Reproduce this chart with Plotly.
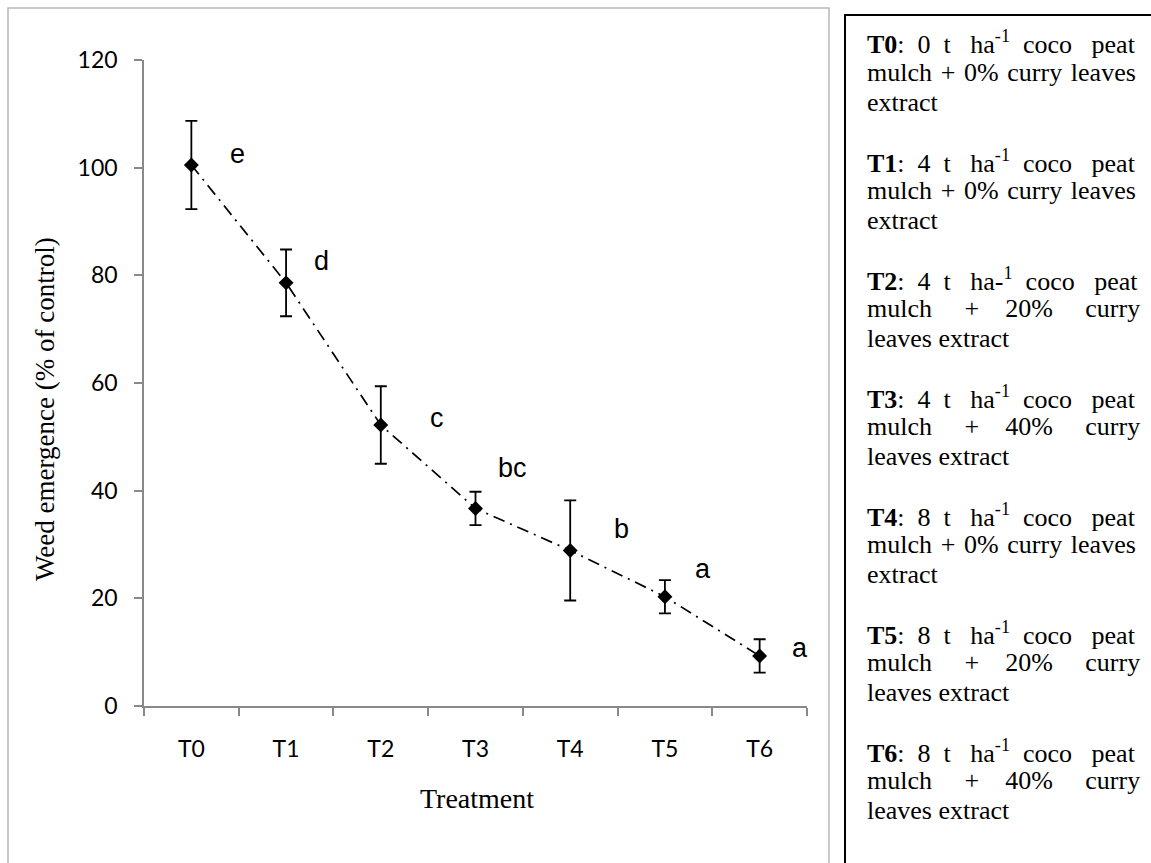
import plotly.graph_objects as go

# ---------------- data ----------------
treatments = ["T0", "T1", "T2", "T3", "T4", "T5", "T6"]
emergence = [100.5, 78.6, 52.2, 36.7, 28.9, 20.3, 9.3]
error = [8.2, 6.2, 7.2, 3.1, 9.3, 3.1, 3.1]
letters = ["e", "d", "c", "bc", "b", "a", "a"]
y_ticks = [0, 20, 40, 60, 80, 100, 120]

HS = "\u200a"  # hair space used to approximate justified text
legend_blocks = [
    ["<b>T0</b>:  0  t   ha<sup>-1</sup>  coco   peat", f"mulch{HS} +{HS} 0%{HS} curry{HS} leaves", "extract"],
    ["<b>T1</b>:  4  t   ha<sup>-1</sup>  coco   peat", f"mulch{HS} +{HS} 0%{HS} curry{HS} leaves", "extract"],
    ["<b>T2</b>:  4  t   ha-<sup>1</sup>  coco   peat", "mulch     +    20%     curry", "leaves extract"],
    ["<b>T3</b>:  4  t   ha<sup>-1</sup>  coco   peat", "mulch     +    40%     curry", "leaves extract"],
    ["<b>T4</b>:  8  t   ha<sup>-1</sup>  coco   peat", f"mulch{HS} +{HS} 0%{HS} curry{HS} leaves", "extract"],
    ["<b>T5</b>:  8  t   ha<sup>-1</sup>  coco   peat", "mulch     +    20%     curry", "leaves extract"],
    ["<b>T6</b>:  8  t   ha<sup>-1</sup>  coco   peat", "mulch     +    40%     curry", "leaves extract"],
]

# ---------------- layout geometry (pixels) ----------------
W, H = 1151, 863
ML, MR, MT, MB = 144, 344, 60, 157
PW, PH = W - ML - MR, H - MT - MB


def px(xp):
    return (xp - ML) / PW


def py(yp):
    return (H - MB - yp) / PH


AXIS_GREY = "#898989"

fig = go.Figure()
fig.add_trace(go.Scatter(
    x=treatments, y=emergence,
    mode="lines+markers",
    line=dict(color="black", width=1.7, dash="12px,6px,2px,6px"),
    marker=dict(symbol="diamond", size=11.5, color="black"),
    error_y=dict(type="data", array=error, visible=True, color="black",
                 thickness=1.8, width=6),
    showlegend=False,
))

# significance letters (offsets relative to category positions)
letter_dx = [0.49, 0.37, 0.59, 0.39, 0.54, 0.40, 0.43]
letter_y = [102.5, 82.6, 53.5, 44.2, 32.9, 25.5, 10.8]
annotations = []
for i, (lab, dx, ly) in enumerate(zip(letters, letter_dx, letter_y)):
    annotations.append(dict(
        x=i + dx, y=ly, xref="x", yref="y", text=lab, showarrow=False,
        font=dict(family="Liberation Sans, Arial", size=27, color="black"),
        xanchor="center", yanchor="middle"))

# axis titles
annotations.append(dict(
    x=px(45), y=py(409), xref="paper", yref="paper",
    text="Weed emergence (% of control)", textangle=-90, showarrow=False,
    font=dict(family="Liberation Serif, Times New Roman", size=27, color="black"),
    xanchor="center", yanchor="middle"))
annotations.append(dict(
    x=px(477), y=py(799), xref="paper", yref="paper",
    text="Treatment", showarrow=False,
    font=dict(family="Liberation Serif, Times New Roman", size=28, color="black"),
    xanchor="center", yanchor="middle"))

# treatment description text box
LEG_X = 865
LEG_Y0 = 43
BLOCK_STEP = 118
LINE_STEP = 29.8
for b, block in enumerate(legend_blocks):
    for j, line in enumerate(block):
        annotations.append(dict(
            x=px(LEG_X), y=py(LEG_Y0 + b * BLOCK_STEP + j * LINE_STEP),
            xref="paper", yref="paper",
            text=line.replace(" ", "\u00a0"), showarrow=False,
            font=dict(family="Liberation Serif, Times New Roman", size=26, color="black"),
            xanchor="left", yanchor="middle", align="left"))

shapes = [
    # chart frame
    dict(type="rect", xref="paper", yref="paper",
         x0=px(8), x1=px(829), y0=py(8), y1=py(875),
         line=dict(color="#b8b8b8", width=1.5), fillcolor="rgba(0,0,0,0)", layer="below"),
    # text box frame
    dict(type="rect", xref="paper", yref="paper",
         x0=px(845), x1=px(1156), y0=py(15), y1=py(880),
         line=dict(color="black", width=2), fillcolor="rgba(0,0,0,0)"),
]

fig.update_layout(
    width=W, height=H, autosize=False,
    margin=dict(l=ML, r=MR, t=MT, b=MB, pad=0),
    paper_bgcolor="white", plot_bgcolor="white",
    annotations=annotations, shapes=shapes,
    xaxis=dict(
        type="category", range=[-0.5, 6.5], tickson="boundaries",
        showline=True, linecolor=AXIS_GREY, linewidth=1.5,
        ticks="outside", ticklen=8, tickwidth=1.5, tickcolor=AXIS_GREY,
        showgrid=False, zeroline=False, ticklabelstandoff=22,
        tickfont=dict(family="Lato, Carlito, Calibri", size=23, color="black"),
    ),
    yaxis=dict(
        range=[0, 120], tickvals=y_ticks,
        showline=True, linecolor=AXIS_GREY, linewidth=1.5,
        ticks="outside", ticklen=8, tickwidth=1.5, tickcolor=AXIS_GREY,
        showgrid=False, zeroline=False, ticklabelstandoff=12,
        tickfont=dict(family="Lato, Carlito, Calibri", size=23, color="black"),
    ),
)

fig.write_html(
    "out.html",
    config={"displayModeBar": False},
    post_script="document.body.style.margin='0';document.body.style.overflow='hidden';",
)
